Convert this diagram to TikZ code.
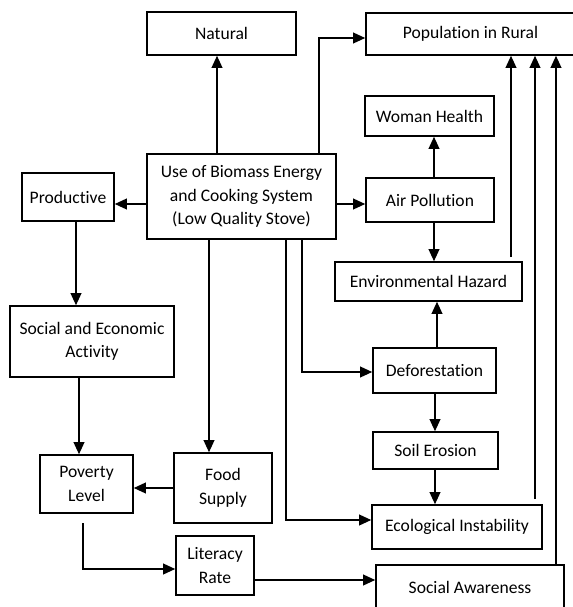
\documentclass[tikz,border=0pt]{standalone}
\usepackage{fontspec}
\setmainfont{Carlito}[Ligatures=NoCommon]
\usetikzlibrary{arrows.meta}

\begin{document}
\begin{tikzpicture}[x=0.03cm, y=-0.03cm, line width=1.3pt,
    box/.style={draw, rectangle, align=center, inner sep=0pt,
      font=\fontsize{15}{20}\selectfont},
    arr/.style={-{Triangle[length=3.6mm,width=3.2mm]}}]
    \useasboundingbox (0,0) rectangle (573,607);

    % the boxes
    \node[box, minimum width=4.47cm, minimum height=1.29cm] (Natural)    at (221.5,33.5) {Natural};
    \node[box, minimum width=6.27cm, minimum height=1.26cm] (Population) at (470.5,34)   {Population in Rural};
    \node[box, minimum width=5.67cm, minimum height=2.55cm] (Main)       at (241.5,196.5)
        {Use of Biomass Energy\\and Cooking System\\(Low Quality Stove)};
    \node[box, minimum width=2.76cm, minimum height=1.44cm] (Productive) at (68,197)     {Productive};
    \node[box, minimum width=3.87cm, minimum height=1.20cm] (Woman)      at (429.5,116)  {Woman Health};
    \node[box, minimum width=3.84cm, minimum height=1.32cm] (Air)        at (430,200)    {Air Pollution};
    \node[box, minimum width=5.61cm, minimum height=1.17cm] (Hazard)     at (428.5,281.5) {Environmental Hazard};
    \node[box, minimum width=4.92cm, minimum height=2.13cm] (Social)     at (92,341.5)   {Social and Economic\\Activity};
    \node[box, minimum width=3.69cm, minimum height=1.35cm] (Deforest)   at (434.5,370.5) {Deforestation};
    \node[box, minimum width=3.75cm, minimum height=1.11cm] (Soil)       at (435.5,450.5) {Soil Erosion};
    \node[box, minimum width=2.79cm, minimum height=1.74cm] (Poverty)    at (86.5,484)   {Poverty\\Level};
    \node[box, minimum width=2.94cm, minimum height=2.10cm] (Food)       at (223,488)    {Food\\Supply};
    \node[box, minimum width=5.10cm, minimum height=1.32cm] (Ecological) at (457,527)    {Ecological Instability};
    \node[box, minimum width=2.34cm, minimum height=1.77cm] (Literacy)   at (215,565.5)  {Literacy\\Rate};
    \node[box, minimum width=5.64cm, minimum height=1.32cm] (Awareness)  at (470,587)    {Social Awareness};

    % columns and rows the arrows run along
    \coordinate (xNat)  at (217,0);
    \coordinate (xPop)  at (319,0);
    \coordinate (xFood) at (209,0);
    \coordinate (xEco)  at (286,0);
    \coordinate (xDef)  at (302,0);
    \coordinate (xAir)  at (434,0);
    \coordinate (xSoil) at (435,0);
    \coordinate (xHaz)  at (437,0);
    \coordinate (xProd) at (76,0);
    \coordinate (xSoc)  at (79,0);
    \coordinate (xAwa)  at (556,0);
    \coordinate (yMid)  at (0,204);
    \coordinate (yPop)  at (0,38);
    \coordinate (yFood) at (0,488);
    \coordinate (yDef)  at (0,372);
    \coordinate (yEco)  at (0,520);
    \coordinate (yLitIn) at (0,569);
    \coordinate (yLit)  at (0,580);
    % loose ends
    \coordinate (povOut) at (83,523);
    \coordinate (hazOut) at (511,257);
    \coordinate (ecoOut) at (535,499);

    \draw[arr] (Main.north -| xNat) -- (Natural.south -| xNat);
    \draw[arr] (Main.north -| xPop) |- (Population.west |- yPop);
    \draw[arr] (Main.west |- yMid) -- (Productive.east |- yMid);
    \draw[arr] (Main.east |- yMid) -- (Air.west |- yMid);
    \draw[arr] (Air.north -| xAir) -- (Woman.south -| xAir);
    \draw[arr] (Air.south -| xAir) -- (Hazard.north -| xAir);
    \draw[arr] (Deforest.north -| xHaz) -- (Hazard.south -| xHaz);
    \draw[arr] (Deforest.south -| xSoil) -- (Soil.north -| xSoil);
    \draw[arr] (Soil.south -| xSoil) -- (Ecological.north -| xSoil);
    \draw[arr] (Main.south -| xDef) |- (Deforest.west |- yDef);
    \draw[arr] (Main.south -| xEco) |- (Ecological.west |- yEco);
    \draw[arr] (Main.south -| xFood) -- (Food.north -| xFood);
    \draw[arr] (Productive.south -| xProd) -- (Social.north -| xProd);
    \draw[arr] (Social.south -| xSoc) -- (Poverty.north -| xSoc);
    \draw[arr] (Food.west |- yFood) -- (Poverty.east |- yFood);
    \draw[arr] (povOut) |- (Literacy.west |- yLitIn);
    \draw[arr] (Literacy.east |- yLit) -- (Awareness.west |- yLit);
    % the three arrows up to the population
    \draw[arr] (hazOut) -- (Population.south -| hazOut);
    \draw[arr] (ecoOut) -- (Population.south -| ecoOut);
    \draw[arr] (Awareness.north -| xAwa) -- (Population.south -| xAwa);
\end{tikzpicture}
\end{document}
